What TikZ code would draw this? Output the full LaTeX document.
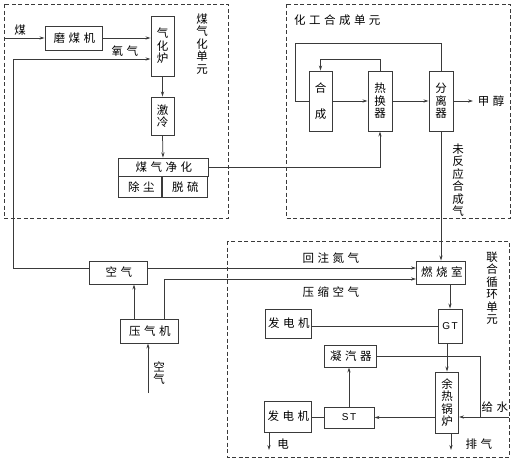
\documentclass[tikz,border=0pt]{standalone}
\usepackage{fontspec}
\setmainfont{Noto Sans CJK SC}
\newfontfamily\hzfont{Noto Sans CJK SC}[LetterSpace=30]
\newfontfamily\latinfont{Liberation Sans}[LetterSpace=15]
\usetikzlibrary{arrows.meta}
\definecolor{lc}{HTML}{3A3A3A}
\newcommand\hz[1]{\kern0.15em{\hzfont #1}}
\tikzset{
  box/.style={draw=lc, line width=0.95pt, inner sep=0pt, align=center,
    font=\fontsize{11.5}{12.5}\selectfont},
  lbl/.style={inner sep=0pt, align=center, font=\fontsize{11.5}{12.5}\selectfont},
  arr/.style={-{Stealth[length=5pt,width=3.2pt]}},
  conn/.style={draw=lc, line width=0.75pt},
  dashbox/.style={draw=lc, line width=0.85pt, dash pattern=on 4pt off 2.5pt}
}
\begin{document}
\begin{tikzpicture}[x=1pt,y=-1pt]
\useasboundingbox (0,0) rectangle (520,463);
% unit frames
\draw[dashbox] (4,4) rectangle (228,218);
\draw[dashbox] (286,4) rectangle (510,218);
\draw[dashbox] (227,241) rectangle (509,457);

% coal gasification unit
\node[box, minimum width=57, minimum height=24] (mill) at (73.5,38) {\hz{磨煤机}};
\node[box, minimum width=23, minimum height=60] (gas) at (162.5,46) {气\\化\\炉};
\node[box, minimum width=23, minimum height=38] (quench) at (162.5,116) {激\\冷};
\node[box, minimum width=90, minimum height=18] (clean) at (163,167) {\hz{煤气净化}};
\node[box, minimum width=44, minimum height=21, anchor=north west] (dust) at (118,176) {\hz{除尘}};
\node[box, minimum width=46, minimum height=21, anchor=north east] (sulf) at (208,176) {\hz{脱硫}};
\node[lbl] (lgas) at (202,44) {煤\\气\\化\\单\\元};

% chemical synthesis unit
\node[lbl, anchor=west] (lchem) at (294,20) {\hzfont 化工合成单元};
\node[box, minimum width=23, minimum height=60] (synth) at (320.5,101) {合\\[14pt]成};
\node[box, minimum width=24, minimum height=60] (hx) at (380,101) {热\\换\\器};
\node[box, minimum width=24, minimum height=60] (sep) at (441,101) {分\\离\\器};
\coordinate (meoh) at (473,101);
\node[lbl, anchor=west] (lmeoh) at (476,101) {\hz{甲醇}};
\node[lbl] (lunr) at (458,180) {未\\反\\应\\合\\成\\气};

% combined cycle unit
\node[box, minimum width=49, minimum height=23] (comb) at (441,272.5) {\hz{燃烧室}};
\node[box, minimum width=58, minimum height=23] (air) at (118,272.5) {\hz{空气}};
\node[box, minimum width=58, minimum height=24] (comp) at (149,331) {\hz{压气机}};
\node[box, minimum width=24, minimum height=34, font=\latinfont\fontsize{10}{12}\selectfont] (gt) at (450,326) {GT};
\node[box, minimum width=46, minimum height=29] (gen1) at (288,323.5) {\hz{发电机}};
\node[box, minimum width=52, minimum height=22] (cond) at (350,356) {\hz{凝汽器}};
\node[box, minimum width=23, minimum height=61] (hrsg) at (447,402.5) {余\\热\\锅\\炉};
\node[box, minimum width=50, minimum height=21, font=\latinfont\fontsize{10}{12}\selectfont] (st) at (349,417.5) {ST};
\node[box, minimum width=47, minimum height=31] (gen2) at (287.5,416.5) {\hz{发电机}};
\node[lbl] (lcc) at (492,288) {联\\合\\循\\环\\单\\元};
\node[lbl] (ln2) at (330,258) {\hz{回注氮气}};
\node[lbl] (lca) at (330,292) {\hz{压缩空气}};
\node[lbl] (lair) at (159,373) {空\\气};
\node[lbl] (lfw) at (494,407) {\hz{给水}};
\node[lbl] (lel) at (283,444) {电};
\node[lbl] (lexh) at (478,444) {\hz{排气}};
\node[lbl] (lcoal) at (20,30) {煤};
\node[lbl] (lo2) at (124,51) {\hz{氧气}};

% coordinates for free ends and bends
\coordinate (coalin) at (4,38);
\coordinate (n2) at (147,268);
\coordinate (o2a) at (13,268);
\coordinate (o2b) at (13,59);
\coordinate (lo1) at (295,43);
\coordinate (li) at (320,59);
\coordinate (ca) at (134,300);
\coordinate (cb) at (164,279);
\coordinate (ain) at (148,393);
\coordinate (fw) at (509,417);
\coordinate (fwj) at (480,417);
\coordinate (exh) at (451,450);
\coordinate (elec) at (269,450);

% connectors: gasification
\draw[conn, arr] (coalin) -- (mill.west |- coalin);
\draw[conn, arr] (mill.east) -- (mill.east -| gas.west);
\draw[conn, arr] (air.west |- n2) -- (o2a) -- (o2b) -- (o2b -| gas.west);
\draw[conn, arr] (gas.south) -- (quench.north);
\draw[conn, arr] (quench.south) -- (clean.north);
\draw[conn, arr] (clean.east) -| (hx.south);

% connectors: synthesis
\draw[conn] (sep.north) |- (lo1) |- (synth.west);
\draw[conn, arr] (hx.north) |- (synth.north |- li) -- (synth.north);
\draw[conn, arr] (synth.east) -- (hx.west);
\draw[conn, arr] (hx.east) -- (sep.west);
\draw[conn, arr] (sep.east) -- (meoh);
\draw[conn, arr] (sep.south) -- (comb.north);

% connectors: combined cycle
\draw[conn, arr] (air.east |- n2) -- (n2 -| comb.west);
\draw[conn, arr] (comp.north -| ca) -- (air.south -| ca);
\draw[conn, arr] (comp.north -| cb) -- (cb) -- (cb -| comb.west);
\draw[conn, arr] (ain) -- (ain |- comp.south);
\draw[conn, arr] (comb.south -| gt.north) -- (gt.north);
\draw[conn] (gen1.east |- gt.west) -- (gt.west);
\draw[conn, arr] (gt.south -| hrsg.north) -- (hrsg.north);
\draw[conn, arr] (fw) -- (fw -| hrsg.east);
\draw[conn] (cond.east) -| (fwj);
\draw[conn, arr] (hrsg.west |- st.east) -- (st.east);
\draw[conn, arr] (st.north) -- (st.north |- cond.south);
\draw[conn] (gen2.east |- st.west) -- (st.west);
\draw[conn, arr] (gen2.south -| elec) -- (elec);
\draw[conn, arr] (hrsg.south -| exh) -- (exh);
\end{tikzpicture}
\end{document}
